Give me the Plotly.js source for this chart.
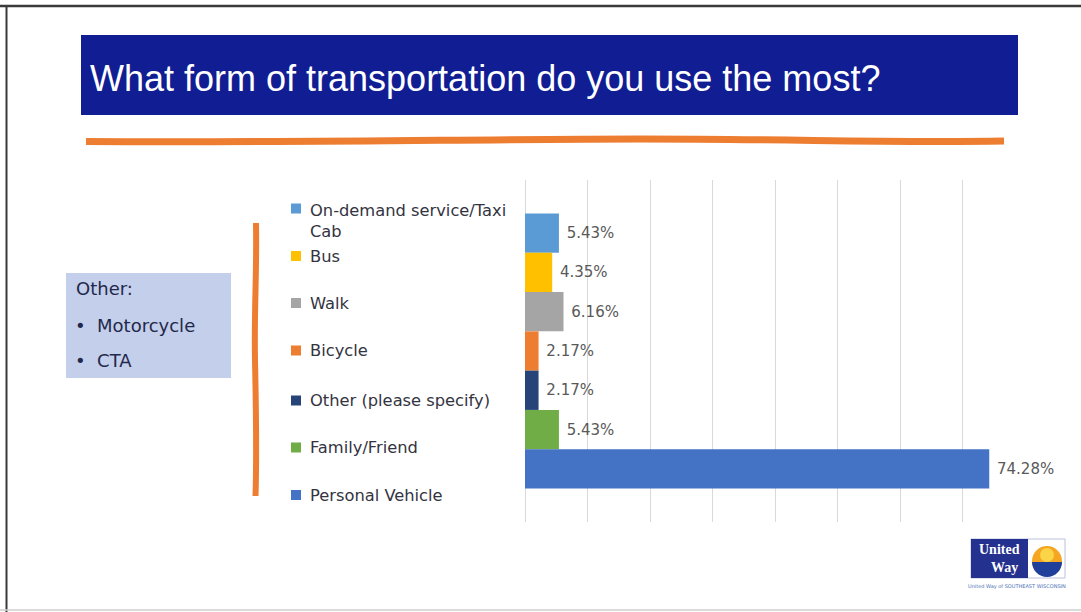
<!DOCTYPE html>
<html>
<head>
<meta charset="utf-8">
<script src="https://cdn.plot.ly/plotly-3.0.1.min.js"></script>
<style>
  html, body { margin: 0; padding: 0; background: #ffffff; }
  #chart { width: 1081px; height: 612px; }
</style>
</head>
<body>
<div id="chart"></div>
<script>
// ---- data ----
const categories = ['On-demand service/Taxi Cab', 'Bus', 'Walk', 'Bicycle', 'Other (please specify)', 'Family/Friend', 'Personal Vehicle'];
const legendLabels = ['On-demand service/Taxi<br>Cab', 'Bus', 'Walk', 'Bicycle', 'Other (please specify)', 'Family/Friend', 'Personal Vehicle'];
const values = [5.43, 4.35, 6.16, 2.17, 2.17, 5.43, 74.28];
const colors = ['#5b9bd5', '#ffc000', '#a5a5a5', '#ed7d31', '#264478', '#70ad47', '#4472c4'];
const titleText = 'What form of transportation do you use the most?';
const otherLines = ['Other:', '•  Motorcycle', '•  CTA'];

// ---- geometry helpers (pixel -> paper) ----
const W = 1081, H = 612;
const M = { l: 525, r: 56, t: 180, b: 90 };
const PW = W - M.l - M.r, PH = H - M.t - M.b;
const X = px => (px - M.l) / PW;
const Y = py => (H - M.b - py) / PH;
function path(cmds) {
  return cmds.map(([c, pts]) => {
    const out = [];
    for (let i = 0; i < pts.length; i += 2) out.push(X(pts[i]).toFixed(5) + ',' + Y(pts[i + 1]).toFixed(5));
    return c + out.join(' ');
  }).join(' ');
}

// ---- traces ----
const traces = categories.map((c, i) => ({
  type: 'bar',
  orientation: 'h',
  name: c,
  y: ['Q'],
  x: [values[i]],
  marker: { color: colors[i] },
  text: ['\u00a0' + values[i].toFixed(2) + '%'],
  textposition: 'outside',
  textfont: { family: 'DejaVu Sans, sans-serif', size: 15, color: '#595959' },
  cliponaxis: false,
  constraintext: 'none',
  showlegend: false,
  hoverinfo: 'skip'
}));

// ---- shapes ----
const shapes = [];
// slide frame
shapes.push({ type: 'line', xref: 'paper', yref: 'paper', x0: X(0), x1: X(W), y0: Y(6), y1: Y(6), line: { color: '#3a3a3a', width: 2.5 } });
shapes.push({ type: 'line', xref: 'paper', yref: 'paper', x0: X(6.5), x1: X(6.5), y0: Y(5), y1: Y(H), line: { color: '#3a3a3a', width: 2 } });
shapes.push({ type: 'line', xref: 'paper', yref: 'paper', x0: X(0), x1: X(W), y0: Y(610), y1: Y(610), line: { color: '#cfcfcf', width: 1.5 } });
// title bar
shapes.push({ type: 'rect', xref: 'paper', yref: 'paper', x0: X(81), x1: X(1018), y0: Y(35), y1: Y(115), fillcolor: '#111d93', line: { width: 0 } });
// orange underline
shapes.push({ type: 'path', xref: 'paper', yref: 'paper',
  path: path([['M', [86, 141.5]], ['C', [300, 143, 480, 139, 640, 139]], ['C', [800, 139, 880, 143, 1004, 141]]]),
  line: { color: '#ed7d31', width: 7 } });
// orange brace
shapes.push({ type: 'path', xref: 'paper', yref: 'paper',
  path: path([['M', [256, 223]], ['C', [257, 270, 254, 310, 255, 360]], ['C', [256, 410, 257, 450, 255.5, 496]]]),
  line: { color: '#ed7d31', width: 6 } });
// "Other" box
shapes.push({ type: 'rect', xref: 'paper', yref: 'paper', x0: X(66), x1: X(231), y0: Y(273), y1: Y(378), fillcolor: '#c3cfeb', line: { width: 0 } });
// legend swatches
const legendY = [208.5, 256, 303, 350.5, 400.5, 447.5, 495];
legendY.forEach((yy, i) => {
  shapes.push({ type: 'rect', xref: 'paper', yref: 'paper', x0: X(291), x1: X(301), y0: Y(yy - 5), y1: Y(yy + 5), fillcolor: colors[i], line: { width: 0 } });
});
// logo
shapes.push({ type: 'rect', xref: 'paper', yref: 'paper', x0: X(971), x1: X(1065), y0: Y(539), y1: Y(578), fillcolor: '#ffffff', line: { color: '#b9c0de', width: 1 } });
shapes.push({ type: 'rect', xref: 'paper', yref: 'paper', x0: X(971), x1: X(1028), y0: Y(539), y1: Y(578), fillcolor: '#24318e', line: { width: 0 } });
shapes.push({ type: 'circle', xref: 'paper', yref: 'paper', x0: X(1032), x1: X(1062), y0: Y(546), y1: Y(576), fillcolor: '#f5a623', line: { width: 0 } });
shapes.push({ type: 'circle', xref: 'paper', yref: 'paper', x0: X(1040), x1: X(1054), y0: Y(548), y1: Y(562), fillcolor: '#fbd448', line: { width: 0 } });
const cx = 1047, cy = 562, r = 15, k = 0.5523 * r;
shapes.push({ type: 'path', xref: 'paper', yref: 'paper',
  path: path([['M', [cx - r, cy]], ['C', [cx - r, cy + k, cx - k, cy + r, cx, cy + r]], ['C', [cx + k, cy + r, cx + r, cy + k, cx + r, cy]], ['Z', []]]),
  fillcolor: '#1f3f9a', line: { width: 0 } });
shapes.push({ type: 'path', xref: 'paper', yref: 'paper',
  path: path([['M', [1044, 559]], ['L', [1047, 549, 1050, 559]], ['Z', []]]),
  fillcolor: '#d6262e', line: { width: 0 } });

// ---- annotations ----
const annotations = [];
legendLabels.forEach((lab, i) => {
  const yy = i === 0 ? 220.5 : legendY[i];
  annotations.push({ xref: 'paper', yref: 'paper', x: X(308), y: Y(yy), xanchor: 'left', yanchor: 'middle',
    text: lab, align: 'left', showarrow: false,
    font: { family: 'DejaVu Sans, sans-serif', size: 16.3, color: '#33343f' } });
});
const otherY = [288.5, 325.5, 360.5];
otherLines.forEach((t, i) => {
  annotations.push({ xref: 'paper', yref: 'paper', x: X(i === 0 ? 74 : 73), y: Y(otherY[i]), xanchor: 'left', yanchor: 'middle',
    text: t, showarrow: false, font: { family: 'DejaVu Sans, sans-serif', size: 18, color: '#23284a' } });
});
annotations.push({ xref: 'paper', yref: 'paper', x: X(999.5), y: Y(549.5), xanchor: 'center', yanchor: 'middle',
  text: '<b>United</b>', showarrow: false, font: { family: 'Liberation Serif, serif', size: 14, color: '#ffffff' } });
annotations.push({ xref: 'paper', yref: 'paper', x: X(1004), y: Y(567), xanchor: 'center', yanchor: 'middle',
  text: '<b>Way</b>', showarrow: false, font: { family: 'Liberation Serif, serif', size: 14, color: '#ffffff' } });
annotations.push({ xref: 'paper', yref: 'paper', x: X(1017), y: Y(586.5), xanchor: 'center', yanchor: 'middle',
  text: 'United Way of SOUTHEAST WISCONSIN', showarrow: false, font: { family: 'DejaVu Sans, sans-serif', size: 5, color: '#4a6fb5' } });

const layout = {
  width: W, height: H,
  margin: M,
  paper_bgcolor: '#ffffff', plot_bgcolor: '#ffffff',
  barmode: 'group', bargap: 0.196, bargroupgap: 0,
  showlegend: false,
  title: { text: titleText, xref: 'container', yref: 'container', x: 90 / W, xanchor: 'left', y: 1 - 78 / H, yanchor: 'middle',
    font: { family: 'Liberation Sans, Arial, sans-serif', size: 36, color: '#ffffff' } },
  xaxis: { range: [0, 80], dtick: 10, showgrid: true, gridcolor: '#d9d9d9', gridwidth: 1,
    zeroline: true, zerolinecolor: '#d9d9d9', zerolinewidth: 1, showticklabels: false, ticks: '', showline: false, fixedrange: true },
  yaxis: { autorange: 'reversed', showticklabels: false, showgrid: false, zeroline: false, showline: false, ticks: '', fixedrange: true },
  shapes: shapes,
  annotations: annotations,
  hovermode: false
};

Plotly.newPlot('chart', traces, layout, { staticPlot: true, displayModeBar: false });
</script>
</body>
</html>
